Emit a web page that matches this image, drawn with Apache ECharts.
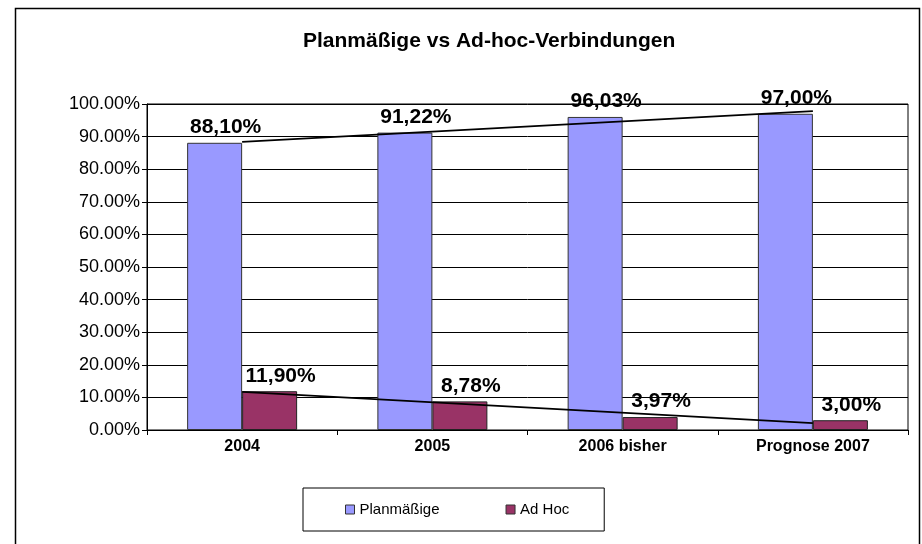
<!DOCTYPE html>
<html>
<head>
<meta charset="utf-8">
<script src="https://cdn.jsdelivr.net/npm/echarts@6/dist/echarts.min.js"></script>
<style>
  html, body { margin: 0; padding: 0; background: #fff; }
  #main { width: 922px; height: 544px; }
</style>
</head>
<body>
<div id="main"></div>
<script>
// Daten aus dem Diagramm
var categories = ['2004', '2005', '2006 bisher', 'Prognose 2007'];
var planmaessig = [88.10, 91.22, 96.03, 97.00];
var adHoc = [11.90, 8.78, 3.97, 3.00];
var trendPlan = [88.4, null, null, 97.8];
var trendAdHoc = [11.7, null, null, 2.1];
var yTicks = [0, 10, 20, 30, 40, 50, 60, 70, 80, 90, 100];

var font = "'Liberation Sans', Arial, sans-serif";

function pct(v) {
    return v.toFixed(2).replace('.', ',') + '%';
}

var myChart = echarts.init(document.getElementById('main'));

var barLabel = {
    show: true,
    position: 'top',
    distance: 5,
    offset: [11, 0],
    color: '#000',
    fontFamily: font,
    fontWeight: 'bold',
    fontSize: 21,
    formatter: function (p) { return pct(p.value); }
};

var option = {
    animation: false,
    backgroundColor: '#fff',
    title: {
        text: 'Planmäßige vs Ad-hoc-Verbindungen',
        left: 298,
        top: 26,
        textStyle: { fontFamily: font, fontSize: 21, fontWeight: 'bold', color: '#000' }
    },
    graphic: [{
        type: 'rect',
        shape: { x: 15.5, y: 8.5, width: 904, height: 600 },
        style: { fill: 'none', stroke: '#000', lineWidth: 1.5 },
        silent: true
    }],
    legend: {
        data: ['Planmäßige', 'Ad Hoc'],
        left: 303,
        top: 488,
        orient: 'horizontal',
        padding: [14, 35, 14, 42],
        itemGap: 66,
        itemWidth: 9,
        itemHeight: 9,
        icon: 'rect',
        borderColor: '#000',
        borderWidth: 1,
        itemStyle: { borderColor: '#333', borderWidth: 1 },
        textStyle: { fontFamily: font, fontSize: 15, color: '#000' }
    },
    grid: {
        left: 147,
        right: 14,
        top: 104,
        bottom: 114,
        show: true,
        borderColor: '#000',
        borderWidth: 1,
        backgroundColor: 'transparent'
    },
    xAxis: {
        type: 'category',
        data: categories,
        boundaryGap: true,
        axisLine: { lineStyle: { color: '#000', width: 1 } },
        axisTick: { show: true, alignWithLabel: false, length: 5, lineStyle: { color: '#000' } },
        axisLabel: { color: '#000', fontFamily: font, fontWeight: 'bold', fontSize: 16, margin: 9 }
    },
    yAxis: {
        type: 'value',
        min: yTicks[0],
        max: yTicks[yTicks.length - 1],
        interval: 10,
        axisLine: { show: true, lineStyle: { color: '#000', width: 1 } },
        axisTick: { show: true, length: 5, lineStyle: { color: '#000' } },
        axisLabel: {
            color: '#000', fontFamily: font, fontSize: 18, margin: 7,
            formatter: function (v) { return v.toFixed(2) + '%'; }
        },
        splitLine: { show: true, lineStyle: { color: '#000', width: 1 } }
    },
    series: [{
        name: 'Planmäßige',
        type: 'bar',
        data: planmaessig,
        barWidth: 55,
        barGap: '0%',
        itemStyle: { color: '#9999FF', borderColor: '#333', borderWidth: 1 },
        label: barLabel
    }, {
        name: 'Ad Hoc',
        type: 'bar',
        data: adHoc,
        barWidth: 55,
        itemStyle: { color: '#993366', borderColor: '#222', borderWidth: 1 },
        label: barLabel
    }, {
        name: 'Trend Planmäßige',
        type: 'line',
        data: trendPlan,
        connectNulls: true,
        symbol: 'none',
        z: 5,
        lineStyle: { color: '#000', width: 1.8 }
    }, {
        name: 'Trend Ad Hoc',
        type: 'line',
        data: trendAdHoc,
        connectNulls: true,
        symbol: 'none',
        z: 5,
        lineStyle: { color: '#000', width: 1.8 }
    }]
};

myChart.setOption(option);
</script>
</body>
</html>
